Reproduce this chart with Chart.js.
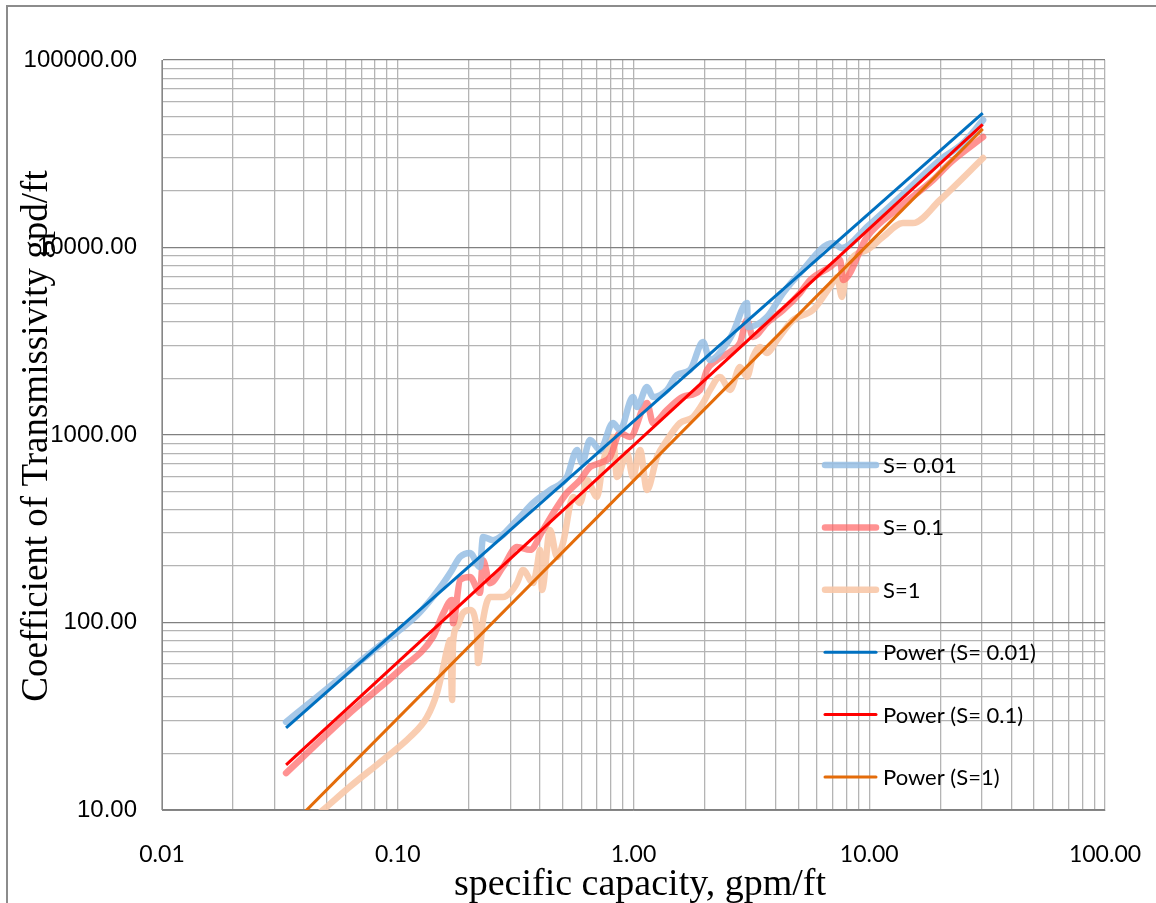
<!DOCTYPE html>
<html>
<head>
<meta charset="utf-8">
<script src="https://cdn.jsdelivr.net/npm/chart.js@4"></script>
<style>
  html, body { margin: 0; padding: 0; background: #fff; }
  #wrap { position: relative; width: 1156px; height: 903px; }
</style>
</head>
<body>
<div id="wrap"><canvas id="chart" width="1156" height="903"></canvas></div>
<script>
// Transmissivity vs specific capacity, log-log

// axis ticks
const xMajorTicks = [0.01, 0.1, 1, 10, 100];
const yMajorTicks = [10, 100, 1000, 10000, 100000];
const minorSteps = [1, 2, 3, 4, 5, 6, 7, 8, 9];

// S = 0.01 (specific capacity gpm/ft, transmissivity gpd/ft)
const sc001 = [0.0336, 0.0454, 0.0626, 0.0865, 0.102, 0.121, 0.141, 0.156, 0.167, 0.184, 0.2025, 0.223, 0.230, 0.2535, 0.3205, 0.375, 0.4425, 0.522, 0.576, 0.605, 0.654, 0.721, 0.818, 0.876, 0.995, 1.035, 1.141, 1.21, 1.387, 1.53, 1.737, 1.972, 2.11, 2.493, 2.64, 3.03, 3.06, 3.68, 4.31, 5.085, 7.02, 7.66, 9.78, 13.5, 19.96, 25.0, 30.4];
const tr001 = [29.5, 40.1, 55.8, 77.7, 91.2, 109.6, 136.8, 162, 184, 224, 235, 198, 286, 275, 352, 434, 509, 597, 832, 709, 940, 832, 1159, 1063, 1595, 1410, 1803, 1595, 1738, 2089, 2222, 3133, 2512, 3096, 3499, 5058, 3767, 4259, 5718, 7311, 10570, 9938, 12865, 18590, 29290, 36080, 47860];

// S = 0.1
const sc01 = [0.0336, 0.0626, 0.102, 0.141, 0.156, 0.170, 0.1716, 0.184, 0.2025, 0.223, 0.230, 0.246, 0.2796, 0.3205, 0.364, 0.413, 0.4737, 0.522, 0.593, 0.654, 0.721, 0.795, 0.876, 0.966, 1.141, 1.21, 1.387, 1.622, 1.915, 2.05, 2.26, 2.64, 2.83, 3.03, 3.21, 3.68, 4.31, 5.085, 5.61, 6.81, 7.52, 7.74, 9.78, 13.5, 18.64, 22.0, 30.4];
const tr01 = [15.75, 32.9, 55.8, 83.7, 112, 132, 99, 169, 175, 144, 215, 162, 198, 253, 244, 311, 413, 491, 575, 675, 709, 763, 1025, 976, 1481, 1159, 1359, 1600, 1738, 2222, 2512, 2840, 3096, 4105, 3333, 3957, 4642, 5718, 6708, 7870, 8577, 6708, 11376, 16444, 22909, 28230, 38850];

// S = 1
const sc1 = [0.0336, 0.0482, 0.0626, 0.0865, 0.1127, 0.133, 0.1467, 0.156, 0.1618, 0.167, 0.170, 0.1716, 0.1784, 0.1891, 0.2025, 0.2169, 0.219, 0.230, 0.246, 0.2796, 0.2993, 0.3205, 0.34, 0.375, 0.3897, 0.4013, 0.4092, 0.4425, 0.4737, 0.5023, 0.554, 0.593, 0.635, 0.700, 0.742, 0.818, 0.851, 0.938, 0.995, 1.066, 1.141, 1.258, 1.387, 1.575, 1.788, 1.972, 2.11, 2.328, 2.567, 2.83, 3.03, 3.21, 3.44, 3.68, 4.062, 4.75, 5.77, 6.81, 7.30, 7.66, 8.05, 9.78, 11.44, 13.9, 15.33, 19.96, 30.4];
const tr1 = [6.8, 10, 13.3, 18.5, 24.5, 31.3, 42.1, 57.9, 71.4, 80.7, 38.6, 77.7, 94.6, 112.4, 116.6, 87.9, 60.8, 103.1, 136.8, 136.8, 143.7, 162.4, 190.5, 162.4, 197.7, 243.6, 149.1, 311.4, 223.6, 265.5, 467, 434, 575, 467, 709, 976, 597, 802, 597, 832, 509, 763, 940, 1159, 1247, 1481, 1738, 2038, 1738, 2306, 2038, 2606, 2946, 2737, 3211, 4105, 4642, 6156, 6960, 5445, 7870, 9698, 11376, 13510, 13510, 17920, 30010];

// power trend lines, end points
const fitX = [0.0336, 30.3];
const fit001 = [27.4, 52000];
const fit01 = [17.4, 45400];
const fit1 = [7.75, 42900];

function pts(xs, ys) {
    return xs.map((x, i) => ({ x: x, y: ys[i] }));
}

function gridValues(majors) {
    const vals = [];
    for (let i = 0; i < majors.length - 1; i++) {
        minorSteps.forEach(m => vals.push(majors[i] * m));
    }
    vals.push(majors[majors.length - 1]);
    return vals.map(v => ({ value: v }));
}

function isPow10(v) {
    const lg = Math.log10(v);
    return Math.abs(lg - Math.round(lg)) < 1e-9;
}

function dataSet(label, xs, ys, color) {
    return {
        label: label,
        data: pts(xs, ys),
        borderColor: color,
        borderWidth: 6.5,
        borderCapStyle: 'round',
        borderJoinStyle: 'round',
        cubicInterpolationMode: 'monotone',
        pointRadius: 0,
        clip: 0,
        order: 1
    };
}

function fitSet(label, ys, color) {
    return {
        label: label,
        data: pts(fitX, ys),
        borderColor: color,
        borderWidth: 3,
        pointRadius: 0,
        clip: 0,
        order: 0
    };
}

const LEGEND_Y0 = 465;
const LEGEND_DY = 62.4;

const chartDecor = {
    id: 'chartDecor',
    beforeDraw(chart) {
        const ctx = chart.ctx;
        ctx.save();
        ctx.fillStyle = '#ffffff';
        ctx.fillRect(0, 0, chart.width, chart.height);
        ctx.strokeStyle = '#8c8c8c';
        ctx.lineWidth = 2;
        ctx.strokeRect(7, 6, chart.width + 20, chart.height + 20);
        ctx.restore();
    },
    afterDraw(chart) {
        const ctx = chart.ctx;
        ctx.save();
        // legend, drawn inside the plot
        chart.data.datasets.forEach((ds, i) => {
            const y = LEGEND_Y0 + i * LEGEND_DY;
            ctx.strokeStyle = ds.borderColor;
            ctx.lineWidth = ds.borderWidth;
            ctx.lineCap = 'round';
            ctx.beginPath();
            ctx.moveTo(825, y);
            ctx.lineTo(876, y);
            ctx.stroke();
            ctx.fillStyle = '#000';
            ctx.font = '22px Lato, "Open Sans", sans-serif';
            ctx.textAlign = 'left';
            ctx.textBaseline = 'middle';
            ctx.fillText(ds.label, 883, y + 1);
        });
        // axis titles
        ctx.fillStyle = '#000';
        ctx.font = '38px "Liberation Serif", "Times New Roman", serif';
        ctx.textAlign = 'center';
        ctx.textBaseline = 'alphabetic';
        ctx.fillText('specific capacity, gpm/ft', 640, 895);
        ctx.translate(47, 436);
        ctx.rotate(-Math.PI / 2);
        ctx.font = '37px "Liberation Serif", "Times New Roman", serif';
        ctx.fillText('Coefficient of Transmissivity gpd/ft', 0, 0);
        ctx.restore();
    }
};

new Chart(document.getElementById('chart'), {
    type: 'line',
    data: {
        datasets: [
            dataSet('S= 0.01', sc001, tr001, 'rgba(150, 190, 228, 0.85)'),
            dataSet('S= 0.1', sc01, tr01, 'rgba(255, 100, 100, 0.7)'),
            dataSet('S=1', sc1, tr1, 'rgba(248, 200, 168, 0.9)'),
            fitSet('Power (S= 0.01)', fit001, '#0070C0'),
            fitSet('Power (S= 0.1)', fit01, '#FF0000'),
            fitSet('Power (S=1)', fit1, '#E46C0A')
        ]
    },
    options: {
        responsive: false,
        animation: false,
        layout: { padding: { left: 0, top: 60, right: 51, bottom: 0 } },
        plugins: {
            legend: { display: false },
            tooltip: { enabled: false }
        },
        scales: {
            x: {
                type: 'logarithmic',
                position: 'bottom',
                min: 0.01,
                max: 100,
                afterBuildTicks: s => { s.ticks = gridValues(xMajorTicks); },
                afterFit: s => { s.height = 93; s.paddingLeft = 0; s.paddingRight = 0; },
                border: { color: '#868686', width: 1 },
                grid: { color: '#b4b4b4', lineWidth: 1.3, drawTicks: false },
                ticks: {
                    autoSkip: false,
                    maxRotation: 0,
                    padding: 31,
                    color: '#000',
                    font: { family: 'Lato, "Open Sans", sans-serif', size: 23 },
                    callback: v => isPow10(v) ? Number(v).toFixed(2) : ''
                }
            },
            y: {
                type: 'logarithmic',
                position: 'left',
                min: 10,
                max: 100000,
                afterBuildTicks: s => { s.ticks = gridValues(yMajorTicks); },
                afterFit: s => { s.width = 162; s.paddingTop = 0; s.paddingBottom = 0; },
                border: { color: '#868686', width: 1 },
                grid: {
                    color: c => (c.tick && isPow10(c.tick.value)) ? '#808080' : '#b4b4b4',
                    lineWidth: 1.3,
                    drawTicks: false
                },
                ticks: {
                    autoSkip: false,
                    padding: 25,
                    color: '#000',
                    font: { family: '"Liberation Sans", Arial, sans-serif', size: 24 },
                    callback: v => isPow10(v) ? Number(v).toFixed(2) : ''
                }
            }
        }
    },
    plugins: [chartDecor]
});
</script>
</body>
</html>
